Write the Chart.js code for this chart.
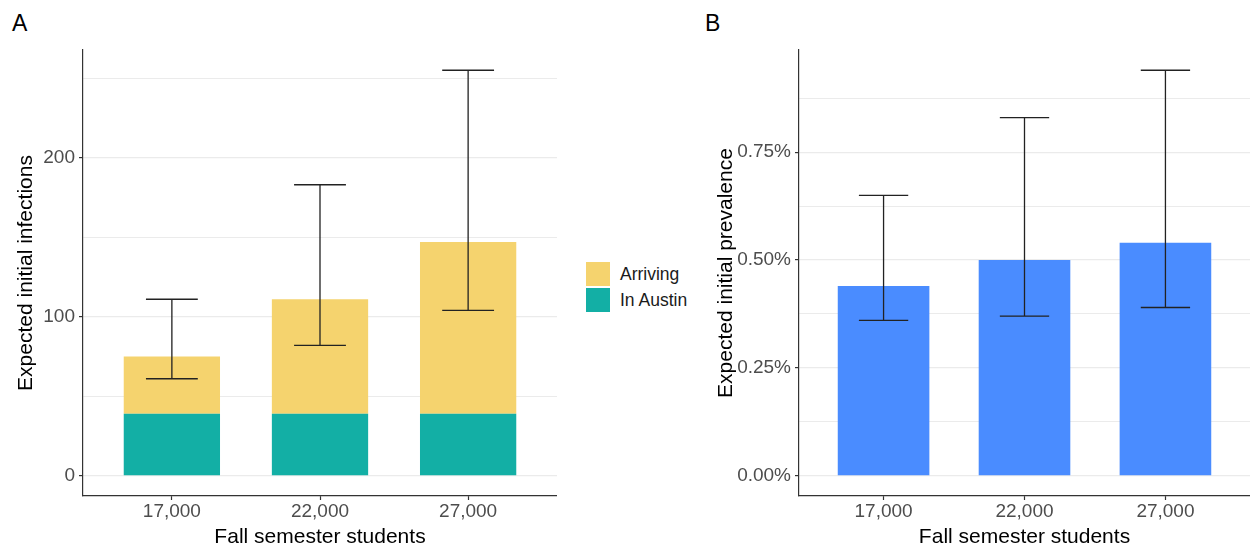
<!DOCTYPE html>
<html>
<head>
<meta charset="utf-8">
<script src="https://cdn.jsdelivr.net/npm/chart.js@4/dist/chart.umd.min.js"></script>
<style>
  html, body { margin: 0; padding: 0; background: #ffffff; }
  body { width: 1250px; height: 548px; position: relative; overflow: hidden; font-family: "Liberation Sans", Arial, sans-serif; }
  #cA { position: absolute; left: 0; top: 0; }
  #cB { position: absolute; left: 700px; top: 0; }
  .tag { position: absolute; font-size: 23px; line-height: 23px; color: #000; }
  #legend { position: absolute; left: 586px; top: 262px; }
  .li { display: flex; align-items: center; height: 24px; margin-bottom: 2px; }
  .sw { width: 24px; height: 24px; margin-right: 10px; }
  .lt { font-size: 17.5px; color: #1a1a1a; line-height: 24px; }
</style>
</head>
<body>
<div class="tag" style="left:12px; top:12px;">A</div>
<div class="tag" style="left:705px; top:12px;">B</div>
<canvas id="cA" width="557" height="548"></canvas>
<canvas id="cB" width="550" height="548"></canvas>
<div id="legend"></div>
<script>
// ---------- data ----------
const categories = ['17,000', '22,000', '27,000'];
const xTitle = 'Fall semester students';

// Panel A: expected initial infections (stacked)
const inAustin = [39, 39, 39];
const arriving = [36, 72, 108];          // totals 75, 111, 147
const infectLow = [61, 82, 104];
const infectHigh = [111, 183, 255];
const yTicksA = [0, 50, 100, 150, 200, 250];

// Panel B: expected initial prevalence (%)
const prevalence = [0.44, 0.50, 0.54];
const prevLow = [0.36, 0.37, 0.39];
const prevHigh = [0.65, 0.83, 0.94];
const yTicksB = [0, 0.125, 0.25, 0.375, 0.5, 0.625, 0.75, 0.875];

const colArriving = '#F5D36E';
const colAustin = '#13AFA5';
const colPrev = '#4A8CFF';

const FONT = '"Liberation Sans", Arial, sans-serif';
const GRID = '#ebebeb';
const AXIS = '#333333';

const errorBarPlugin = {
  id: 'errorBars',
  afterDatasetsDraw(chart, args, opts) {
    const {ctx, scales: {x, y}} = chart;
    ctx.save();
    ctx.strokeStyle = '#222';
    ctx.lineWidth = 1.3;
    const half = x.getPixelForValue(1.175) - x.getPixelForValue(1);
    opts.low.forEach((lo, i) => {
      const hi = opts.high[i];
      const px = x.getPixelForValue(i + 1);
      const py1 = y.getPixelForValue(lo);
      const py2 = y.getPixelForValue(hi);
      ctx.beginPath();
      ctx.moveTo(px, py1); ctx.lineTo(px, py2);
      ctx.moveTo(px - half, py1); ctx.lineTo(px + half, py1);
      ctx.moveTo(px - half, py2); ctx.lineTo(px + half, py2);
      ctx.stroke();
    });
    ctx.restore();
  }
};

function xScale(stacked) {
  return {
    type: 'linear', min: 0.4, max: 3.6, stacked: stacked, offset: false,
    afterBuildTicks: (s) => { s.ticks = categories.map((c, i) => ({value: i + 1})); },
    afterFit: (s) => { s.height = 52; },
    ticks: {
      callback: (v) => categories[Math.round(v) - 1] || '',
      font: {family: FONT, size: 19, lineHeight: 1}, color: '#4d4d4d', padding: 2,
      maxRotation: 0, autoSkip: false
    },
    grid: { offset: false, drawOnChartArea: false, drawTicks: true, tickLength: 4, tickColor: AXIS, tickWidth: 1.2, color: AXIS },
    border: { display: true, color: AXIS, width: 1.2 },
    title: { display: true, text: xTitle, font: {family: FONT, size: 21, lineHeight: 1}, color: '#000', padding: {top: 0, bottom: 0} }
  };
}

function yScale(min, max, ticks, isMajor, fmt, title, width, stacked) {
  return {
    type: 'linear', min: min, max: max, stacked: stacked,
    afterBuildTicks: (s) => { s.ticks = ticks.map(v => ({value: v})); },
    afterFit: (s) => { s.width = width; },
    ticks: {
      callback: (v) => isMajor(v) ? fmt(v) : '',
      font: {family: FONT, size: 19, lineHeight: 1}, color: '#4d4d4d', padding: 4
    },
    grid: {
      offset: false,
      color: GRID,
      lineWidth: (c) => (c.tick && isMajor(c.tick.value)) ? 1.2 : 1,
      drawTicks: true, tickLength: 4,
      tickColor: (c) => (c.tick && isMajor(c.tick.value)) ? AXIS : 'rgba(0,0,0,0)',
      tickWidth: 1.2
    },
    border: { display: true, color: AXIS, width: 1.2 },
    title: { display: true, text: title, font: {family: FONT, size: 21, lineHeight: 1}, color: '#000', padding: {top: 16, bottom: 0} }
  };
}

const pts = (arr) => arr.map((v, i) => ({x: i + 1, y: v}));

const chartA = new Chart(document.getElementById('cA'), {
  type: 'bar',
  data: {
    datasets: [
      {label: 'In Austin', data: pts(inAustin), backgroundColor: colAustin, borderWidth: 0, barPercentage: 0.65, categoryPercentage: 1},
      {label: 'Arriving', data: pts(arriving), backgroundColor: colArriving, borderWidth: 0, barPercentage: 0.65, categoryPercentage: 1}
    ]
  },
  options: {
    responsive: false, animation: false, devicePixelRatio: 1,
    layout: {padding: {top: 50, left: 0, right: 0, bottom: 0}},
    plugins: {legend: {display: false}, tooltip: {enabled: false}, errorBars: {low: infectLow, high: infectHigh}},
    scales: {
      x: xScale(true),
      y: yScale(-12.75, 267.75, yTicksA, v => Math.abs(v % 100) < 1e-9, v => String(v), 'Expected initial infections', 83, true)
    }
  },
  plugins: [errorBarPlugin]
});

const chartB = new Chart(document.getElementById('cB'), {
  type: 'bar',
  data: {
    datasets: [
      {label: 'Prevalence', data: pts(prevalence), backgroundColor: colPrev, borderWidth: 0, barPercentage: 0.65, categoryPercentage: 1}
    ]
  },
  options: {
    responsive: false, animation: false, devicePixelRatio: 1,
    layout: {padding: {top: 50, left: 0, right: 0, bottom: 0}},
    plugins: {legend: {display: false}, tooltip: {enabled: false}, errorBars: {low: prevLow, high: prevHigh}},
    scales: {
      x: xScale(false),
      y: yScale(-0.047, 0.987, yTicksB, v => Math.abs(Math.round(v * 1000) % 250) === 0, v => v.toFixed(2) + '%', 'Expected initial prevalence', 99, false)
    }
  },
  plugins: [errorBarPlugin]
});

// HTML legend built from panel A datasets (top of stack listed first, as in the reference)
const legendEl = document.getElementById('legend');
chartA.data.datasets.slice().reverse().forEach(ds => {
  const row = document.createElement('div'); row.className = 'li';
  const sw = document.createElement('div'); sw.className = 'sw'; sw.style.background = ds.backgroundColor;
  const t = document.createElement('span'); t.className = 'lt'; t.textContent = ds.label;
  row.appendChild(sw); row.appendChild(t); legendEl.appendChild(row);
});
</script>
</body>
</html>
